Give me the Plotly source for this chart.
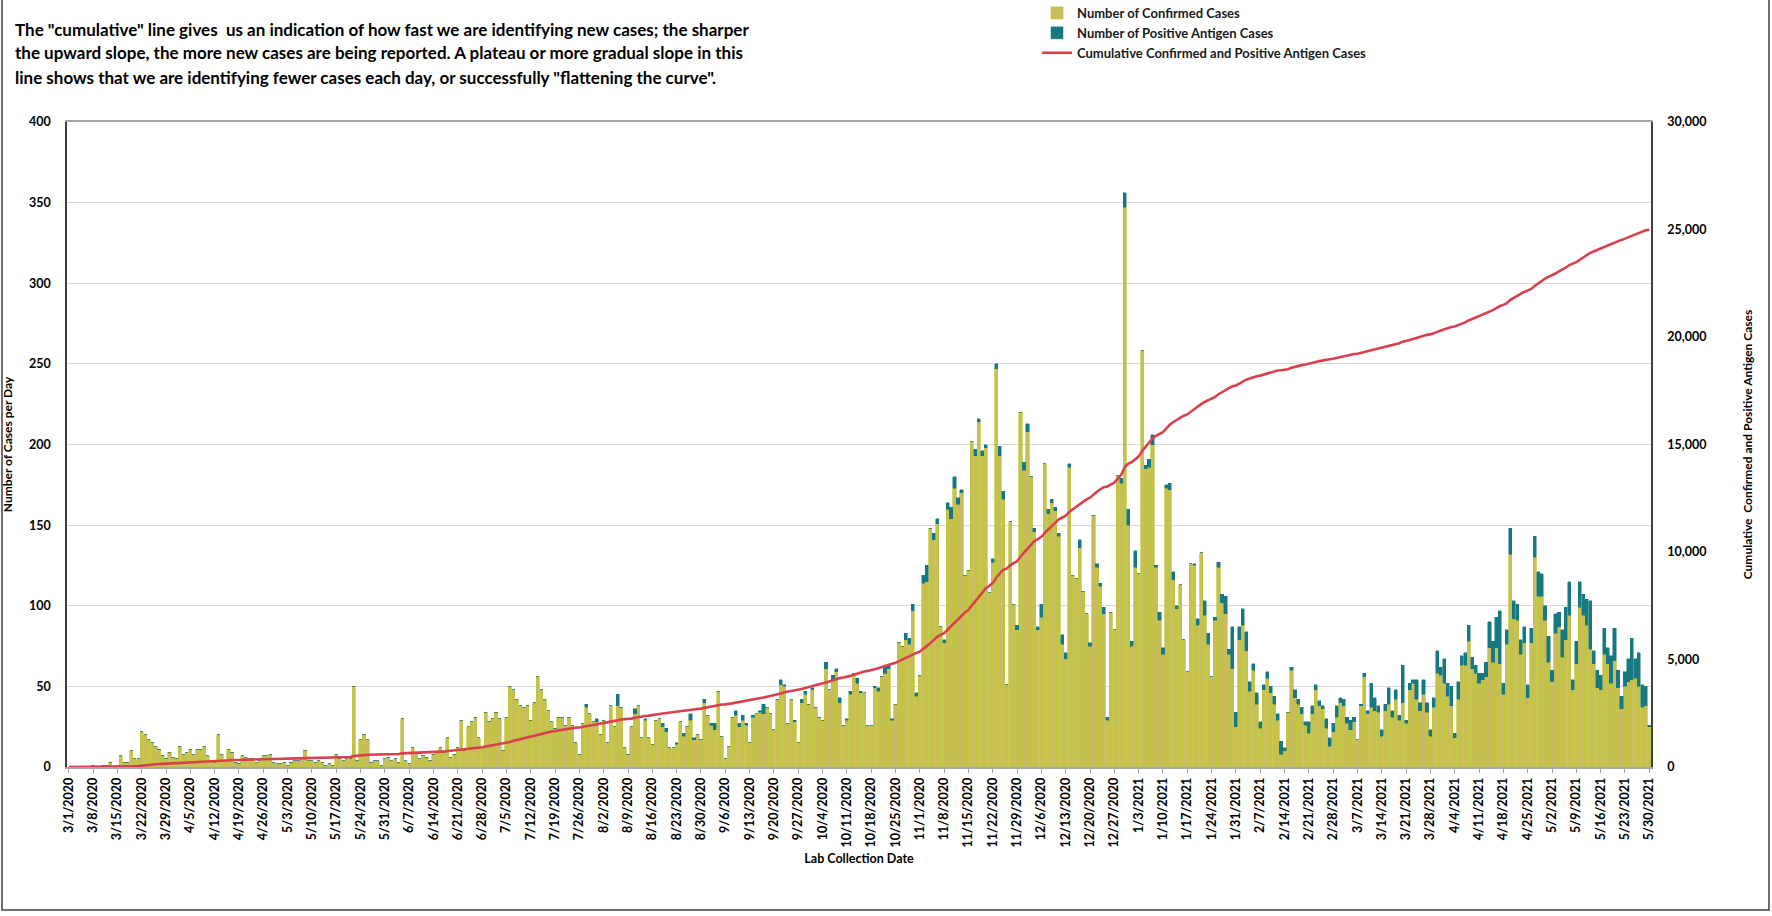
import numpy as np
import pandas as pd
import plotly.graph_objects as go

# ---------------- data ----------------
first_day = "2020-03-01"
last_day = "2021-05-30"

# Number of Confirmed Cases per day (one row = one week, starting 3/1/2020)
confirmed = [
    0, 0, 0, 0, 0, 0, 0,
    1, 0, 0, 1, 1, 3, 0,
    1, 7, 3, 3, 10, 5, 5,
    22, 20, 17, 15, 13, 11, 7,
    5, 9, 6, 5, 13, 8, 9,
    11, 8, 11, 11, 13, 7, 4,
    3, 20, 8, 4, 11, 9, 3,
    2, 7, 6, 5, 5, 3, 4,
    7, 7, 8, 3, 2, 2, 3,
    1, 3, 4, 4, 5, 10, 4,
    4, 3, 4, 3, 1, 2, 1,
    8, 5, 4, 5, 5, 50, 4,
    17, 20, 17, 3, 4, 4, 1,
    5, 6, 4, 5, 3, 30, 4,
    2, 12, 9, 5, 7, 6, 4,
    8, 9, 12, 9, 18, 6, 8,
    12, 29, 10, 25, 28, 31, 18,
    12, 34, 28, 30, 34, 30, 10,
    31, 50, 48, 42, 38, 37, 38,
    29, 40, 56, 48, 42, 35, 28,
    24, 31, 31, 26, 31, 26, 15,
    8, 27, 37, 33, 28, 28, 20,
    29, 15, 38, 25, 38, 37, 12,
    8, 25, 33, 38, 18, 29, 18,
    14, 29, 30, 25, 22, 12, 12,
    14, 28, 19, 25, 29, 17, 20,
    17, 40, 32, 26, 23, 47, 19,
    5, 13, 31, 32, 25, 29, 26,
    15, 31, 33, 34, 33, 37, 33,
    23, 42, 51, 50, 27, 42, 28,
    15, 40, 45, 39, 48, 37, 31,
    29, 61, 48, 54, 59, 40, 26,
    29, 45, 58, 52, 46, 46, 26,
    26, 49, 47, 56, 58, 61, 29,
    39, 77, 75, 79, 76, 97, 44,
    57, 114, 115, 148, 141, 151, 87,
    77, 160, 154, 173, 163, 170, 119,
    122, 202, 193, 214, 193, 198, 108,
    127, 247, 193, 166, 51, 152, 101,
    85, 220, 184, 208, 180, 146, 85,
    93, 188, 157, 164, 159, 143, 76,
    67, 186, 119, 117, 136, 109, 95,
    75, 156, 124, 112, 95, 29, 96,
    85, 181, 176, 347, 150, 75, 124,
    120, 258, 185, 186, 200, 124, 91,
    70, 173, 172, 116, 98, 113, 79,
    59, 126, 125, 88, 133, 94, 76,
    56, 91, 124, 102, 95, 70, 61,
    25, 79, 88, 72, 47, 60, 39,
    24, 48, 55, 46, 39, 29, 8,
    10, 34, 60, 43, 39, 33, 26,
    21, 33, 48, 38, 36, 24, 13,
    22, 31, 40, 38, 27, 23, 28,
    17, 38, 56, 33, 37, 35, 34,
    19, 35, 39, 31, 42, 29, 40,
    27, 48, 52, 42, 35, 45, 34,
    19, 37, 58, 57, 52, 44, 38,
    18, 42, 63, 63, 78, 61, 58,
    52, 54, 56, 74, 65, 74, 64,
    45, 76, 132, 92, 91, 70, 77,
    43, 77, 130, 106, 106, 91, 65,
    53, 83, 87, 68, 79, 94, 48,
    64, 99, 94, 88, 73, 64, 49,
    48, 70, 64, 52, 66, 49, 36,
    50, 53, 54, 55, 50, 37, 38,
    25,
]

# Number of Positive Antigen Cases per day (same weeks)
antigen = [
    0, 0, 0, 0, 0, 0, 0,
    0, 0, 0, 0, 0, 0, 0,
    0, 0, 0, 0, 0, 0, 0,
    0, 0, 0, 0, 0, 0, 0,
    0, 0, 0, 0, 0, 0, 0,
    0, 0, 0, 0, 0, 0, 0,
    0, 0, 0, 0, 0, 0, 0,
    0, 0, 0, 0, 0, 0, 0,
    0, 0, 0, 0, 0, 0, 0,
    0, 0, 0, 0, 0, 0, 0,
    0, 0, 0, 0, 0, 0, 0,
    0, 0, 0, 0, 0, 0, 0,
    0, 0, 0, 0, 0, 0, 0,
    0, 0, 0, 0, 0, 0, 0,
    0, 0, 0, 0, 0, 0, 0,
    0, 0, 0, 0, 0, 0, 0,
    0, 0, 0, 0, 0, 0, 0,
    0, 0, 0, 0, 0, 0, 0,
    0, 0, 0, 0, 0, 0, 0,
    0, 0, 0, 0, 0, 0, 0,
    0, 0, 0, 0, 0, 0, 0,
    0, 0, 2, 0, 0, 2, 0,
    0, 0, 0, 0, 7, 0, 0,
    0, 0, 3, 0, 0, 1, 0,
    0, 0, 0, 2, 2, 0, 0,
    1, 0, 2, 0, 4, 1, 0,
    0, 2, 0, 1, 4, 0, 0,
    0, 0, 0, 3, 2, 3, 1,
    0, 1, 0, 1, 6, 0, 0,
    0, 0, 3, 1, 0, 0, 1,
    0, 2, 2, 0, 1, 0, 0,
    0, 4, 0, 3, 2, 3, 0,
    1, 2, 0, 3, 1, 0, 0,
    0, 1, 2, 0, 4, 2, 1,
    0, 0, 0, 4, 4, 4, 2,
    0, 5, 10, 0, 4, 3, 0,
    2, 4, 7, 7, 4, 2, 0,
    0, 0, 4, 2, 3, 2, 0,
    2, 3, 6, 5, 0, 0, 0,
    3, 0, 5, 5, 0, 2, 2,
    8, 0, 3, 2, 2, 2, 6,
    4, 2, 0, 0, 5, 0, 0,
    2, 0, 2, 2, 4, 2, 0,
    0, 0, 3, 9, 10, 3, 10,
    0, 0, 2, 5, 6, 1, 5,
    4, 2, 4, 5, 2, 0, 0,
    0, 0, 1, 4, 0, 9, 7,
    0, 2, 3, 5, 11, 3, 26,
    9, 8, 10, 12, 6, 4, 7,
    4, 3, 4, 4, 5, 4, 8,
    2, 0, 2, 5, 3, 4, 2,
    7, 5, 3, 3, 2, 6, 5,
    5, 7, 3, 4, 4, 6, 3,
    0, 1, 2, 2, 15, 8, 4,
    4, 4, 10, 4, 6, 3, 23,
    2, 4, 2, 12, 5, 9, 6,
    4, 6, 14, 5, 15, 8, 12,
    3, 11, 6, 8, 10, 7, 5,
    6, 4, 9, 16, 13, 19, 33,
    7, 9, 16, 11, 10, 9, 10,
    8, 9, 13, 15, 14, 9, 16,
    7, 12, 9, 17, 20, 21, 6,
    14, 16, 13, 16, 30, 8, 11,
    9, 16, 10, 17, 20, 11, 8,
    9, 14, 26, 12, 21, 14, 12,
    1,
]

left_ticks = [0, 50, 100, 150, 200, 250, 300, 350, 400]
right_ticks = [0, 5000, 10000, 15000, 20000, 25000, 30000]

title_lines = [
    'The "cumulative" line gives  us an indication of how fast we are identifying new cases; the sharper',
    'the upward slope, the more new cases are being reported. A plateau or more gradual slope in this',
    'line shows that we are identifying fewer cases each day, or successfully "flattening the curve".',
]

# ---------------- derived ----------------
dates = pd.date_range(first_day, last_day, freq="D")
assert len(confirmed) == len(dates) and len(antigen) == len(dates)
cumulative = np.cumsum(np.array(confirmed) + np.array(antigen))
tick_dates = dates[::7]
tick_text = [f"{d.month}/{d.day}/{d.year}" for d in tick_dates]

FONT = "Lato, Liberation Sans, sans-serif"

fig = go.Figure()
fig.add_trace(go.Bar(
    x=dates, y=confirmed, name="Number of Confirmed Cases",
    marker=dict(color="#c8bc5c", line=dict(color="#bccc2c", width=0.7)),
))
fig.add_trace(go.Bar(
    x=dates, y=antigen, name="Number of Positive Antigen Cases",
    marker=dict(color="#167880", line=dict(color="#167880", width=0.5)),
))
fig.add_trace(go.Scatter(
    x=dates, y=cumulative, name="Cumulative Confirmed and Positive Antigen Cases",
    mode="lines", line=dict(color="#d8404e", width=2.6), yaxis="y2",
))

W, H = 1772, 916
L, R, T, B = 67, 121, 122, 149
pw, ph = W - L - R, H - T - B


def px_x(x):
    return (x - L) / pw


def px_y(y):
    return (H - B - y) / ph


title_annotations = [
    dict(text=line, xref="paper", yref="paper",
         x=px_x(13), y=px_y(yc), xanchor="left", yanchor="middle", align="left",
         showarrow=False, font=dict(family=FONT, size=17, color="#000000", weight="bold"))
    for line, yc in zip(title_lines, [29, 53, 77])
]

fig.update_layout(
    width=W, height=H,
    margin=dict(l=L, r=R, t=T, b=B, autoexpand=False),
    paper_bgcolor="white", plot_bgcolor="white",
    barmode="stack", bargap=0.1,
    font=dict(family=FONT, size=12, color="#000000", weight="bold"),
    showlegend=True,
    legend=dict(
        x=px_x(1037), y=px_y(-2), xanchor="left", yanchor="top",
        font=dict(family=FONT, size=13, color="#1a1a1a", weight="bold"),
        bgcolor="rgba(0,0,0,0)", itemwidth=30, tracegroupgap=0,
        traceorder="normal",
    ),
    xaxis=dict(
        type="date", automargin=False,
        range=[pd.Timestamp(first_day) - pd.Timedelta(hours=12),
               pd.Timestamp(last_day) + pd.Timedelta(hours=12)],
        tickmode="array", tickvals=tick_dates, ticktext=tick_text,
        tickangle=-90, tickfont=dict(size=12.5, weight="bold"),
        ticks="outside", ticklen=4, tickcolor="#a0a0a0",
        showgrid=False, showline=True, linecolor="#a6a6a6", linewidth=1.5, mirror=True,
        title=dict(text="Lab Collection Date", font=dict(size=12.5, weight="bold"), standoff=8),
        zeroline=False,
    ),
    yaxis=dict(
        range=[0, 400], tickmode="array", tickvals=left_ticks, automargin=False,
        tickfont=dict(size=12.5, weight="bold"),
        showgrid=True, gridcolor="#d9d9d9", gridwidth=1,
        showline=True, linecolor="#404040", linewidth=1.5, mirror=True,
        ticks="", ticklabelstandoff=12, zeroline=False,
        title=dict(text="Number of Cases per Day", font=dict(size=12, weight="bold"), standoff=14),
    ),
    yaxis2=dict(
        range=[0, 30000], overlaying="y", side="right", automargin=False,
        tickmode="array", tickvals=right_ticks, tickformat=",",
        tickfont=dict(size=12.5, weight="bold"),
        showgrid=False, showline=True, linecolor="#404040", linewidth=1.5,
        ticks="", ticklabelstandoff=12, zeroline=False,
        title=dict(text="Cumulative  Confirmed and Positive Antigen Cases",
                   font=dict(size=12, weight="bold"), standoff=38),
    ),
    annotations=title_annotations,
    shapes=[dict(
        type="rect", xref="paper", yref="paper",
        x0=px_x(2), x1=px_x(1769), y0=px_y(910), y1=px_y(-6),
        line=dict(color="#404040", width=1.5), fillcolor="rgba(0,0,0,0)", layer="below",
    )],
)

fig.write_html(
    "out.html",
    config={"displayModeBar": False},
    post_script="document.body.style.margin='0';document.body.style.overflow='hidden';",
)
